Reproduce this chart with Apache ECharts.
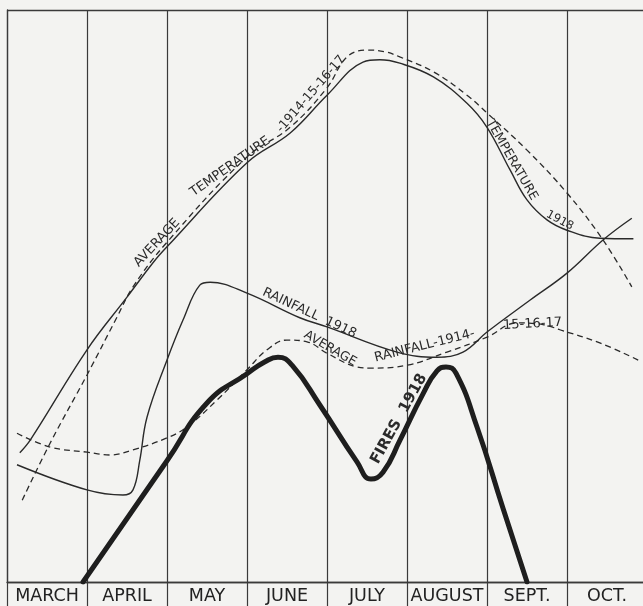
<!DOCTYPE html>
<html><head><meta charset="utf-8">
<script src="https://cdn.jsdelivr.net/npm/echarts@6/dist/echarts.min.js"></script>
<style>html,body{margin:0;padding:0;background:#f3f3f1}#c{width:643px;height:606px}</style>
</head><body><div id="c"></div>
<script>
// x = month position (0 = start of March, 1 = start of April ...), y = relative height (0..100)
const months = ['MARCH','APRIL','MAY','JUNE','JULY','AUGUST','SEPT.','OCT.'];
const temperature1918 = [[0.16,22.6],[0.29,24.8],[1.0,40.6],[1.5,49.8],[1.83,55.9],[2.0,58.6],[3.0,73.3],[3.54,78.5],[4.0,85.1],[4.45,90.9],[4.66,91.3],[4.91,90.7],[5.33,88.3],[5.75,83.7],[6.0,79.5],[6.29,72.0],[6.5,66.8],[6.75,63.3],[7.0,61.5],[7.41,60.1],[7.83,60.0]];
const avgTemperature = [[0.19,14.3],[0.54,24.3],[1.0,36.2],[1.375,46.3],[1.575,51.6],[2.0,59.4],[3.0,74.3],[3.54,79.5],[4.0,86.4],[4.25,91.8],[4.5,93.0],[4.725,92.7],[4.91,91.8],[5.33,89.2],[5.75,85.1],[6.0,82.0],[6.5,75.5],[7.0,68.0],[7.45,59.8],[7.81,51.6]];
const rainfall1918 = [[0.125,20.5],[1.0,16.1],[1.45,15.2],[1.575,16.1],[1.66,21.3],[1.75,28.8],[2.0,38.8],[2.2,45.8],[2.41,51.9],[2.54,52.4],[3.0,50.5],[3.66,46.2],[4.0,44.6],[4.875,40.2],[5.375,39.3],[5.7,40.2],[6.0,43.7],[6.54,49.3],[7.0,54.0],[7.45,59.8],[7.81,63.6]];
const avgRainfall = [[0.125,26.0],[0.54,23.6],[1.0,22.7],[1.29,22.2],[1.575,23.1],[2.0,25.2],[2.25,27.1],[2.625,31.8],[3.0,37.1],[3.25,40.6],[3.5,42.3],[3.75,42.0],[4.0,40.0],[4.375,37.6],[4.54,37.4],[5.0,37.9],[5.5,40.2],[6.0,42.8],[6.375,45.3],[6.7,45.0],[6.91,44.1],[7.41,41.8],[7.89,38.8]];
const fires1918 = [[0.95,0],[2.0,21.2],[2.5,31.3],[3.0,36.4],[3.225,38.5],[3.3875,39.3],[3.5625,37.9],[3.9125,30.9],[4.375,21.0],[4.55,18.0],[4.7,19.2],[4.9125,24.8],[5.2,32.9],[5.375,36.9],[5.4875,37.6],[5.6125,36.5],[5.875,27.1],[6.2,12.9],[6.5,0]];

const INK = '#2a2a2a';
const LINE = '#3a3a3a';
const FONT = '"DejaVu Sans",sans-serif';
function tag(coord, text, rotate, size){
  return {coord: coord, value: 0, label: {formatter: text, rotate: rotate, fontSize: size || 12}};
}
function marks(list, weight){
  return {symbol:'circle', symbolSize:0, silent:true, animation:false,
    label:{show:true, position:'inside', color:INK, fontFamily:FONT, fontWeight: weight||'normal'},
    data:list};
}
const chart = echarts.init(document.getElementById('c'), null, {renderer:'canvas'});
chart.setOption({
  backgroundColor:'#f3f3f1',
  animation:false,
  grid:{left:7, top:10, width:640, bottom:24, show:false, containLabel:false, outerBoundsMode:'none'},
  xAxis:[
    {type:'value', min:0, max:8, interval:1, position:'bottom',
     axisLine:{show:true, onZero:false, lineStyle:{color:LINE, width:1.3}},
     axisTick:{show:true, length:25, lineStyle:{color:LINE, width:1.2}},
     axisLabel:{show:false},
     splitLine:{show:true, lineStyle:{color:LINE, width:1.2}}},
    {type:'value', min:0, max:8, interval:0.5, position:'bottom',
     axisLine:{show:false}, axisTick:{show:false}, splitLine:{show:false},
     axisLabel:{show:true, color:'#222', fontSize:17.5, margin:5, fontFamily:FONT, showMinLabel:true, showMaxLabel:true, hideOverlap:false,
       formatter:function(v){ return (Math.abs(v % 1 - 0.5) < 1e-6) ? months[Math.floor(v)] : ''; }}}
  ],
  yAxis:{type:'value', min:0, max:100, interval:100,
     axisLine:{show:true, onZero:false, lineStyle:{color:LINE, width:1.3}},
     axisTick:{show:false}, axisLabel:{show:false},
     splitLine:{show:true, lineStyle:{color:LINE, width:1.3}}},
  series:[
    {name:'Temperature 1918', type:'line', xAxisIndex:0, data:temperature1918, smooth:0.4, showSymbol:false,
     lineStyle:{color:INK, width:1.4},
     markPoint:marks([tag([6.31,73.8],'TEMPERATURE',-60,12.5), tag([6.91,63.2],'1918',-28,11.5)])},
    {name:'Average Temperature 1914-15-16-17', type:'line', xAxisIndex:0, data:avgTemperature, smooth:0.4, showSymbol:false,
     lineStyle:{color:INK, width:1.3, type:[6,4]},
     markPoint:marks([tag([1.875,59.3],'AVERAGE',47,13), tag([2.79,72.6],'TEMPERATURE',35,13), tag([3.8,85.3],'-1914-15-16-17',49,12.5)])},
    {name:'Rainfall 1918', type:'line', xAxisIndex:0, data:rainfall1918, smooth:0.4, showSymbol:false,
     lineStyle:{color:INK, width:1.4},
     markPoint:marks([tag([3.78,47.0],'RAINFALL  1918',-25,13)])},
    {name:'Average Rainfall 1914-15-16-17', type:'line', xAxisIndex:0, data:avgRainfall, smooth:0.4, showSymbol:false,
     lineStyle:{color:INK, width:1.3, type:[6,4]},
     markPoint:marks([tag([4.04,40.8],'AVERAGE',-30,12.5), tag([5.22,41.3],'RAINFALL-1914-',14,13), tag([6.57,45.1],'15-16-17',3,13)])},
    {name:'Fires 1918', type:'line', xAxisIndex:0, data:fires1918, smooth:0.5, showSymbol:false,
     lineStyle:{color:'#1e1e1e', width:5, cap:'round', join:'round'},
     markPoint:marks([tag([4.9,28.5],'FIRES  1918',61,15)],'bold')}
  ]
});
</script>
</body></html>
